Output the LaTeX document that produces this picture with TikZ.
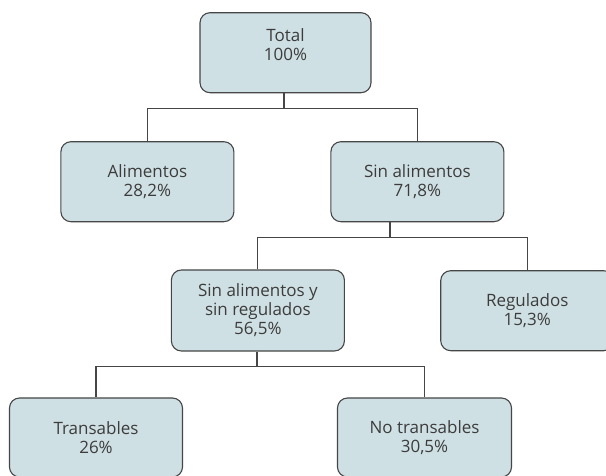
\documentclass[tikz,border=0pt]{standalone}
\usepackage{fontspec}
\setmainfont{Open Sans}
\definecolor{boxfill}{RGB}{207,224,228}
\definecolor{boxline}{RGB}{70,70,70}
\definecolor{txt}{RGB}{60,60,60}
\tikzset{
  catbox/.style={draw=boxline, line width=1.1pt, fill=boxfill, rounded corners=10pt,
    minimum width=173pt, minimum height=80pt, inner sep=0pt, align=center,
    text=txt, font=\fontsize{17}{19}\selectfont},
  conn/.style={draw=boxline, line width=1.1pt}
}
\begin{document}
\begin{tikzpicture}[x=1pt,y=-1pt]
\useasboundingbox (0,0) rectangle (606,475);
\clip (0,0) rectangle (606,475);
\fill[white] (0,0) rectangle (606,475);
\node[catbox, minimum width=171pt] (tot) at (285.5,52.7) {\raisebox{5.5pt}[\height][\depth]{\begin{tabular}{@{}c@{}}Total\\100\%\end{tabular}}};
\node[catbox] (ali) at (147.4,181.7) {Alimentos\\28,2\%};
\node[catbox] (sin) at (417.4,181.7) {Sin alimentos\\71,8\%};
\node[catbox, minimum height=81pt] (sasr) at (257.9,310.5) {Sin alimentos y\\sin regulados\\56,5\%};
\node[catbox] (reg) at (527.2,310.7) {Regulados\\15,3\%};
\node[catbox, minimum height=79pt] (tra) at (96,437.5) {Transables\\26\%};
\node[catbox, minimum width=174pt, minimum height=79pt] (notr) at (424.5,437.5) {No transables\\30,5\%};
\coordinate (j1) at (284,108.7);
\coordinate (j2) at (390,237.7);
\coordinate (j3) at (257,366.7);
\draw[conn] (tot.south -| j1) -- (j1);
\draw[conn] (ali.north) |- (j1) -| (sin.north);
\draw[conn] (sin.south -| j2) -- (j2);
\draw[conn] (sasr.north) |- (j2) -| (reg.north);
\draw[conn] (sasr.south -| j3) -- (j3);
\draw[conn] (tra.north) |- (j3) -| (notr.north);
\end{tikzpicture}
\end{document}
